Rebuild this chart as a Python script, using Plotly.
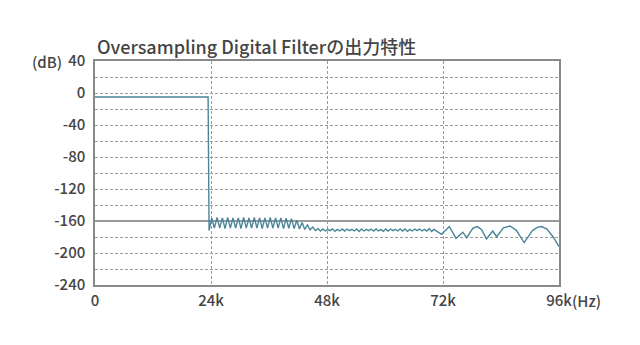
import plotly.graph_objects as go

# ---- data (frequency in kHz, level in dB) ----
pass_khz = [0, 23.4, 23.6]
pass_db = [-5, -5, -172]

zig_khz = [24.15, 24.7, 25.25, 25.8, 26.35, 26.9, 27.45, 28.0, 28.55, 29.1, 29.65, 30.2,
           30.75, 31.3, 31.85, 32.4, 32.95, 33.5, 34.05, 34.6, 35.15, 35.7, 36.25, 36.8,
           37.35, 37.9, 38.45, 39.0, 39.55, 40.1, 40.65, 41.2]
zig_db = [-156, -169, -155.5, -169, -156, -169.5, -155.5, -169, -156, -169, -156, -169.5,
          -155.5, -169, -156, -169, -155.5, -169, -156, -169.5, -156, -169, -155.5, -169,
          -156, -169, -156, -169.5, -156.5, -169, -157, -169.5]

decay_khz = [41.75, 42.3, 42.85, 43.4, 43.95, 44.5, 45.05, 45.6, 46.15]
decay_db = [-159, -170, -162, -170.5, -165, -171, -167.5, -172, -169.5]

ripple_khz = [46.65, 47.15, 47.65, 48.15, 48.65, 49.15, 49.65, 50.15, 50.65, 51.15, 51.65, 52.15,
              52.65, 53.15, 53.65, 54.15, 54.65, 55.15, 55.65, 56.15, 56.65, 57.15, 57.65, 58.15,
              58.65, 59.15, 59.65, 60.15, 60.65, 61.15, 61.65, 62.15, 62.65, 63.15, 63.65, 64.15,
              64.65, 65.15, 65.65, 66.15, 66.65, 67.15, 67.65, 68.15, 68.65, 69.15, 69.65, 70.15]
ripple_db = [-172.5, -170, -172.5, -170.5, -172, -170, -173, -170.5, -172.5, -170, -172.5, -170,
             -172, -170.5, -172.5, -170, -173, -170, -172.5, -170.5, -172, -170, -172.5, -170,
             -172.5, -170.5, -173, -170, -172.5, -170, -172, -170.5, -172.5, -170, -172.5, -170,
             -173, -170.5, -172.5, -170, -172, -170, -172.5, -170.5, -172.5, -169.5, -173, -170.5]

tail_khz = [71.7, 73.3, 74.7, 76.1, 76.9, 78.2, 79.1, 80.0, 81.0, 82.3, 83.1, 84.5, 85.9,
            87.2, 88.8, 90.5, 91.5, 92.4, 93.5, 94.8, 96.0]
tail_db = [-176.6, -167, -181.7, -174, -180.8, -169, -167, -171, -182.5, -172.5, -179.6, -168.5,
           -166.3, -172, -187, -172, -168, -167, -170, -180, -192]

freq_khz = pass_khz + zig_khz + decay_khz + ripple_khz + tail_khz
level_db = pass_db + zig_db + decay_db + ripple_db + tail_db

x_tickvals = [0, 24, 48, 72, 96]
x_ticktext = ["0", "24k", "48k", "72k", "96k"]
y_tickvals = [40, 0, -40, -80, -120, -160, -200, -240]
y_ticktext = ["40", "0", "-40", "-80", "-120", "-160", "-200", "-240"]

FONT = "Noto Sans CJK JP"
TXT = "#444444"
GRID = "#9a9a9a"
BORDER = "#8a8a8a"

fig = go.Figure()
fig.add_trace(go.Scatter(x=freq_khz, y=level_db, mode="lines",
                         line=dict(color="#4a8599", width=1.4), hoverinfo="skip",
                         showlegend=False))

fig.add_shape(type="line", xref="x", yref="y", x0=0, x1=96, y0=-160, y1=-160,
              line=dict(color="#9a9a9a", width=2), layer="between")

fig.update_xaxes(range=[0, 96], tickvals=x_tickvals, ticktext=x_ticktext,
                 showgrid=True, gridcolor=GRID, griddash="3px,2px", gridwidth=1,
                 showline=True, mirror=True, linecolor=BORDER, linewidth=1.5,
                 zeroline=False, ticks="", ticklabelstandoff=1,
                 tickfont=dict(family=FONT, size=15, color=TXT, weight=500))
fig.update_yaxes(range=[-240, 40], tickvals=y_tickvals, ticktext=y_ticktext,
                 showgrid=True, gridcolor=GRID, griddash="3px,2px", gridwidth=1,
                 minor=dict(dtick=20, tick0=0, showgrid=True, gridcolor=GRID,
                            griddash="3px,2px", gridwidth=1),
                 showline=True, mirror=True, linecolor=BORDER, linewidth=1.5,
                 zeroline=False, ticks="", ticklabelstandoff=5,
                 tickfont=dict(family=FONT, size=15, color=TXT, weight=500))

fig.add_annotation(text="Oversampling Digital Filterの出力特性", xref="paper", yref="paper",
                   x=0, y=1.067, xanchor="left", yanchor="middle", showarrow=False,
                   font=dict(family=FONT, size=18, color=TXT, weight=500))
fig.add_annotation(text="(dB)", xref="paper", yref="paper",
                   x=-0.066, y=1.0, xanchor="right", yanchor="middle", showarrow=False,
                   font=dict(family=FONT, size=15, color=TXT, weight=500))
fig.add_annotation(text="(Hz)", xref="paper", yref="paper",
                   x=1.024, y=-0.068, xanchor="left", yanchor="middle", showarrow=False,
                   font=dict(family=FONT, size=15, color=TXT, weight=500))

fig.update_layout(width=640, height=345, margin=dict(l=95, r=81, t=61, b=60),
                  paper_bgcolor="white", plot_bgcolor="white")

fig.write_html("out.html")
